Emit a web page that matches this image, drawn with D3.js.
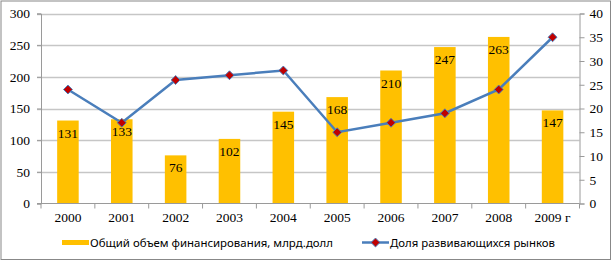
<!DOCTYPE html>
<html lang="ru">
<head>
<meta charset="UTF-8">
<title>Финансирование и доля развивающихся рынков</title>
<script src="https://d3js.org/d3.v7.min.js"></script>
<style>
  html, body { margin: 0; padding: 0; background: #fff; }
  svg { display: block; }
</style>
</head>
<body>
<svg width="612" height="261"></svg>
<script>
// data
const years = ["2000", "2001", "2002", "2003", "2004", "2005", "2006", "2007", "2008", "2009 г"];
const volume = [131, 133, 76, 102, 145, 168, 210, 247, 263, 147];   // млрд.долл
const share = [24, 17, 26, 27, 28, 15, 17, 19, 24, 35];            // %
const leftTicks = [0, 50, 100, 150, 200, 250, 300];
const rightTicks = [0, 5, 10, 15, 20, 25, 30, 35, 40];
const barName = "Общий объем финансирования, млрд.долл";
const lineName = "Доля развивающихся рынков";

const svg = d3.select("svg");
const W = 612, H = 261;
const m = { left: 41, right: 579.5, top: 13.5, bottom: 203.5 };

const serif = "'Liberation Serif', 'Times New Roman', serif";
const sans = "'Noto Sans', 'DejaVu Sans', sans-serif";

// outer frame
svg.append("rect")
  .attr("x", 1).attr("y", 1).attr("width", W - 2.5).attr("height", H - 2.5)
  .attr("fill", "#fff").attr("stroke", "#888").attr("stroke-width", 1);

const x = d3.scaleBand().domain(years)
  .range([m.left, m.right]).paddingInner(0.6).paddingOuter(0.3);
const yL = d3.scaleLinear().domain([0, 300]).range([m.bottom, m.top]);
const yR = d3.scaleLinear().domain([0, 40]).range([m.bottom, m.top]);

// gridlines
svg.append("g")
  .selectAll("line").data(leftTicks.filter(d => d > 0)).join("line")
  .attr("x1", m.left - 4).attr("x2", m.right)
  .attr("y1", d => Math.round(yL(d)) + 0.5).attr("y2", d => Math.round(yL(d)) + 0.5)
  .attr("stroke", "#c6c6c6").attr("stroke-width", 1.3);

// bars
svg.append("g")
  .selectAll("rect").data(volume).join("rect")
  .attr("x", (d, i) => x(years[i]))
  .attr("width", x.bandwidth())
  .attr("y", d => yL(d))
  .attr("height", d => yL(0) - yL(d))
  .attr("fill", "#ffc000");

// bar value labels (inside end)
svg.append("g")
  .selectAll("text").data(volume).join("text")
  .attr("x", (d, i) => x(years[i]) + x.bandwidth() / 2)
  .attr("y", d => yL(d) + 17)
  .attr("text-anchor", "middle")
  .attr("font-family", serif).attr("font-size", 13.5).attr("fill", "#000")
  .text(d => d);

// left axis
const axisColor = "#9a9a9a";
const gL = svg.append("g").attr("transform", `translate(${m.left},0)`)
  .call(d3.axisLeft(yL).tickValues(leftTicks).tickSize(4).tickPadding(7));
gL.select(".domain").attr("stroke", axisColor);
gL.selectAll(".tick line").attr("stroke", axisColor);
gL.selectAll("text").attr("font-family", serif).attr("font-size", 13.5).attr("fill", "#000");

// right axis
const gR = svg.append("g").attr("transform", `translate(${m.right},0)`)
  .call(d3.axisRight(yR).tickValues(rightTicks).tickSize(5).tickPadding(5));
gR.select(".domain").attr("stroke", axisColor);
gR.selectAll(".tick line").attr("stroke", axisColor);
gR.selectAll("text").attr("font-family", serif).attr("font-size", 13.5).attr("fill", "#000");

// bottom axis: baseline with ticks at category boundaries
const gB = svg.append("g").attr("transform", `translate(0,${m.bottom})`);
gB.append("line").attr("x1", m.left - 4).attr("x2", m.right)
  .attr("stroke", axisColor);
const step = x.step();
const bounds = d3.range(years.length + 1).map(i => m.left + i * step);
gB.selectAll(".bt").data(bounds).join("line")
  .attr("class", "bt")
  .attr("x1", d => d).attr("x2", d => d).attr("y1", 0).attr("y2", 5)
  .attr("stroke", axisColor);
gB.selectAll("text").data(years).join("text")
  .attr("x", d => x(d) + x.bandwidth() / 2)
  .attr("y", 18)
  .attr("text-anchor", "middle")
  .attr("font-family", serif).attr("font-size", 13.5).attr("fill", "#000")
  .text(d => d);

// line series
const cx = i => x(years[i]) + x.bandwidth() / 2;
svg.append("path")
  .datum(share)
  .attr("d", d3.line().x((d, i) => cx(i)).y(d => yR(d)))
  .attr("fill", "none").attr("stroke", "#4a7ebb").attr("stroke-width", 2.5);

const diamond = d3.symbol().type(d3.symbolDiamond2).size(50);
svg.append("g")
  .selectAll("path").data(share).join("path")
  .attr("transform", (d, i) => `translate(${cx(i)},${yR(d)})`)
  .attr("d", diamond)
  .attr("fill", "#c00000").attr("stroke", "#4a7ebb").attr("stroke-width", 1);

// legend
const lg = svg.append("g").attr("font-family", sans).attr("font-size", 11).attr("fill", "#000");
lg.append("rect").attr("x", 62).attr("y", 240).attr("width", 27).attr("height", 5).attr("fill", "#ffc000");
lg.append("text").attr("x", 90).attr("y", 246.5)
  .attr("textLength", 243).attr("lengthAdjust", "spacingAndGlyphs").text(barName);
lg.append("line").attr("x1", 362).attr("x2", 389).attr("y1", 242.5).attr("y2", 242.5)
  .attr("stroke", "#4a7ebb").attr("stroke-width", 2.5);
lg.append("path").attr("transform", "translate(375.5,242.5)").attr("d", diamond)
  .attr("fill", "#c00000").attr("stroke", "#4a7ebb").attr("stroke-width", 1);
lg.append("text").attr("x", 390).attr("y", 246.5)
  .attr("textLength", 165).attr("lengthAdjust", "spacingAndGlyphs").text(lineName);
</script>
</body>
</html>
